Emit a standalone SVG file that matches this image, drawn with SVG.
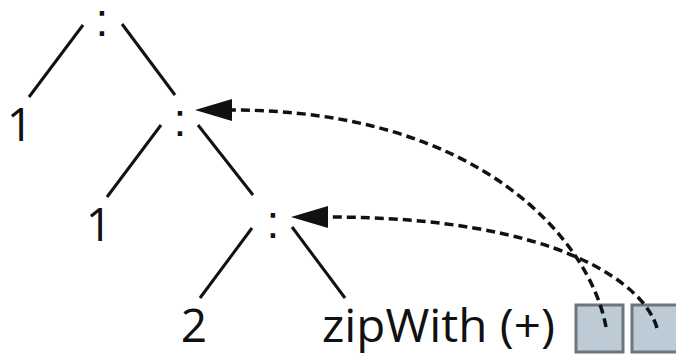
<svg xmlns="http://www.w3.org/2000/svg" width="676" height="356" viewBox="0 0 676 356">
<style>
.t{font-family:"Open Sans","Liberation Sans",sans-serif;font-size:46px;fill:#111}
.k{font-family:"Liberation Sans",Arial,sans-serif;font-size:46px;fill:#111;text-anchor:middle}
.c{text-anchor:middle}
.e{stroke:#111;stroke-width:3;fill:none}
.d{stroke:#111;stroke-width:3.5;fill:none;stroke-dasharray:9 5}
.b{fill:#bccbd6;stroke:#6e767c;stroke-width:3}
</style>
<defs>
<marker id="ah" markerUnits="userSpaceOnUse" markerWidth="40" markerHeight="24" viewBox="0 0 40 24" refX="0" refY="12" orient="auto">
<path d="M0,1 L37,12 L0,23 Z" fill="#111"/>
</marker>
</defs>
<rect width="676" height="356" fill="#fff"/>
<g id="cons1"><text class="k" x="102" y="36">:</text></g>
<g id="one1"><text class="t c" x="20" y="141">1</text></g>
<g id="cons2"><text class="k" x="180" y="136">:</text></g>
<g id="one2"><text class="t c" x="99" y="241">1</text></g>
<g id="cons3"><text class="k" x="273" y="238">:</text></g>
<g id="two"><text class="t c" x="194" y="342">2</text></g>
<g id="zip"><text class="t" x="322" y="342" textLength="233" lengthAdjust="spacingAndGlyphs">zipWith (+)</text></g>
<g id="box1"><rect class="b" x="576" y="305" width="47" height="47"/></g>
<g id="box2"><rect class="b" x="632" y="305" width="47" height="47"/></g>
<g id="edges">
<line class="e" x1="83" y1="25" x2="29" y2="97"/>
<line class="e" x1="122" y1="24" x2="175" y2="95"/>
<line class="e" x1="161" y1="125" x2="107" y2="197"/>
<line class="e" x1="198" y1="125" x2="253" y2="195"/>
<line class="e" x1="252" y1="228" x2="200" y2="298"/>
<line class="e" x1="292" y1="227" x2="345" y2="298"/>
<path class="d" d="M606,327 C590,240 480,110 232,110" marker-end="url(#ah)"/>
<path class="d" d="M657,328 C645,285 560,217 328,217" marker-end="url(#ah)"/>
</g>
</svg>
